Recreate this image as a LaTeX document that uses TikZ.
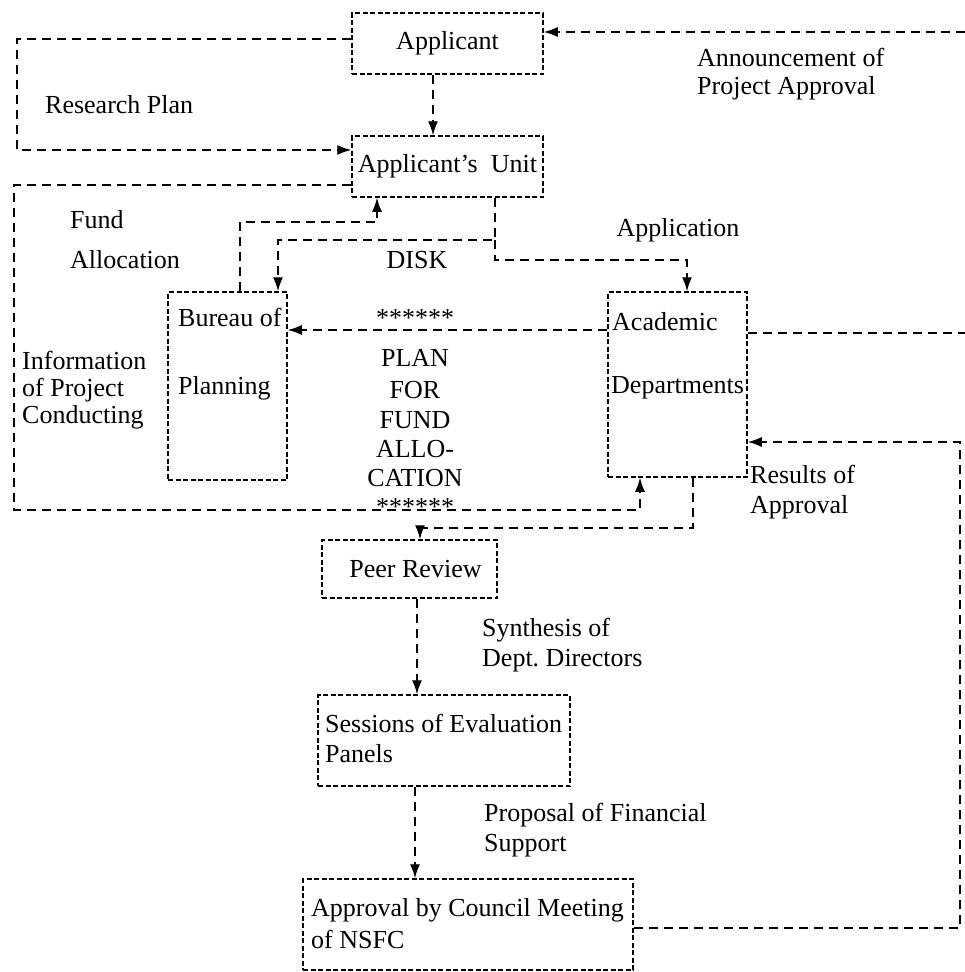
\documentclass[tikz,border=0pt]{standalone}
\usepackage{fontspec}
\setmainfont{Liberation Serif}
\usetikzlibrary{arrows.meta}
\tikzset{
  box/.style={draw=black, line width=1.5pt, dash pattern=on 5pt off 2.5pt, inner sep=0pt},
  conn/.style={draw=black, line width=1.4pt, dash pattern=on 9pt off 6pt},
  arr/.style={conn, -{Latex[length=14pt,width=10pt]}},
  txt/.style={inner sep=0pt, align=left, anchor=west},
  ctxt/.style={inner sep=0pt, align=center},
  every node/.style={font=\fontsize{26pt}{31pt}\selectfont}
}
\begin{document}
\frenchspacing
\begin{tikzpicture}[x=1pt,y=-1pt]
\useasboundingbox[fill=white] (0,0) rectangle (965,972);

% boxes
\node[box, minimum width=191pt, minimum height=61pt] (appl) at (447.5,43.5) {Applicant};
\node[box, minimum width=191pt, minimum height=61pt] (unit) at (447.5,166.5) {Applicant's\ \ Unit};
\node[box, minimum width=119pt, minimum height=188pt] (bureau) at (227.5,386) {};
\node[box, minimum width=139pt, minimum height=185pt] (acad) at (677.5,384.5) {};
\node[box, minimum width=175pt, minimum height=58pt] (peer) at (409.5,569) {\hspace{12pt}Peer Review};
\node[box, minimum width=252pt, minimum height=91pt] (sess) at (444,740.5) {};
\node[box, minimum width=330pt, minimum height=91pt] (appr) at (468,924.5) {};

% texts inside boxes
\node[txt] (bureauA) at (178,317) {Bureau of};
\node[txt] (bureauB) at (178,388) {Planning};
\node[txt] (acadA) at (612,322) {Academic};
\node[txt] (acadB) at (611,388) {Departments};
\node[txt] (sessT) at (325,738) {Sessions of Evaluation\\[-1pt]Panels};
\node[txt] (apprT) at (311,924) {Approval by Council Meeting\\[1pt]of NSFC};

% labels
\node[txt] (lRP) at (45,105) {Research Plan};
\node[txt] (lAnn) at (697,74) {Announcement of\\[-3pt]Project Approval};
\node[txt] (lFA) at (70,240) {Fund\\[9pt]Allocation};
\node[ctxt] (lDisk) at (417,260) {DISK};
\node[ctxt] (lApp) at (678,230) {Application};
\node[txt] (lInfo) at (22,390) {Information\\[-4pt]of Project\\[-4pt]Conducting};
\node[ctxt, font=\fontsize{26pt}{29pt}\selectfont] (lPlan) at (415,412) {******\\[11pt]PLAN\\[3pt]FOR\\[1pt]FUND\\ALLO-\\CATION\\******};
\node[txt] (lRes) at (750,492) {Results of\\[-1pt]Approval};
\node[txt] (lSyn) at (482,645) {Synthesis of\\[-1pt]Dept. Directors};
\node[txt] (lProp) at (484,830) {Proposal of Financial\\[-1pt]Support};

% coordinates
\coordinate (au) at (433,100);
\coordinate (rpT) at (17,39);
\coordinate (rpB) at (17,150);
\coordinate (ipT) at (14,185);
\coordinate (ipB) at (14,510);
\coordinate (ipR) at (640,510);
\coordinate (faL) at (240,222);
\coordinate (faR) at (377,222);
\coordinate (dk) at (495,240);
\coordinate (dkL) at (278,240);
\coordinate (apC) at (495,260);
\coordinate (apR) at (687,260);
\coordinate (abY) at (450,330);
\coordinate (annR) at (965,32);
\coordinate (acR) at (965,333);
\coordinate (resC) at (960,928);
\coordinate (resT) at (960,442);
\coordinate (pA) at (693,528);
\coordinate (pB) at (420,528);
\coordinate (ps) at (417,640);
\coordinate (sa) at (415,830);

% connectors
\draw[arr] (au |- appl.south) -- (au |- unit.north);
\draw[arr] (rpT -| appl.west) -- (rpT) -- (rpB) -- (rpB -| unit.west);
\draw[arr] (ipT -| unit.west) -- (ipT) -- (ipB) -- (ipR) -- (ipR |- acad.south);
\draw[arr] (faL |- bureau.north) -- (faL) -- (faR) -- (faR |- unit.south);
\draw[arr] (dk |- unit.south) -- (dk) -- (dkL) -- (dkL |- bureau.north);
\draw[arr] (dk) -- (apC) -- (apR) -- (apR |- acad.north);
\draw[arr] (abY -| acad.west) -- (abY -| bureau.east);
\draw[arr] (annR) -- (annR -| appl.east);
\draw[conn] (acR -| acad.east) -- (acR);
\draw[arr] (resC -| appr.east) -- (resC) -- (resT) -- (resT -| acad.east);
\draw[arr] (pA |- acad.south) -- (pA) -- (pB) -- (pB |- peer.north);
\draw[arr] (ps |- peer.south) -- (ps |- sess.north);
\draw[arr] (sa |- sess.south) -- (sa |- appr.north);
\end{tikzpicture}
\end{document}
